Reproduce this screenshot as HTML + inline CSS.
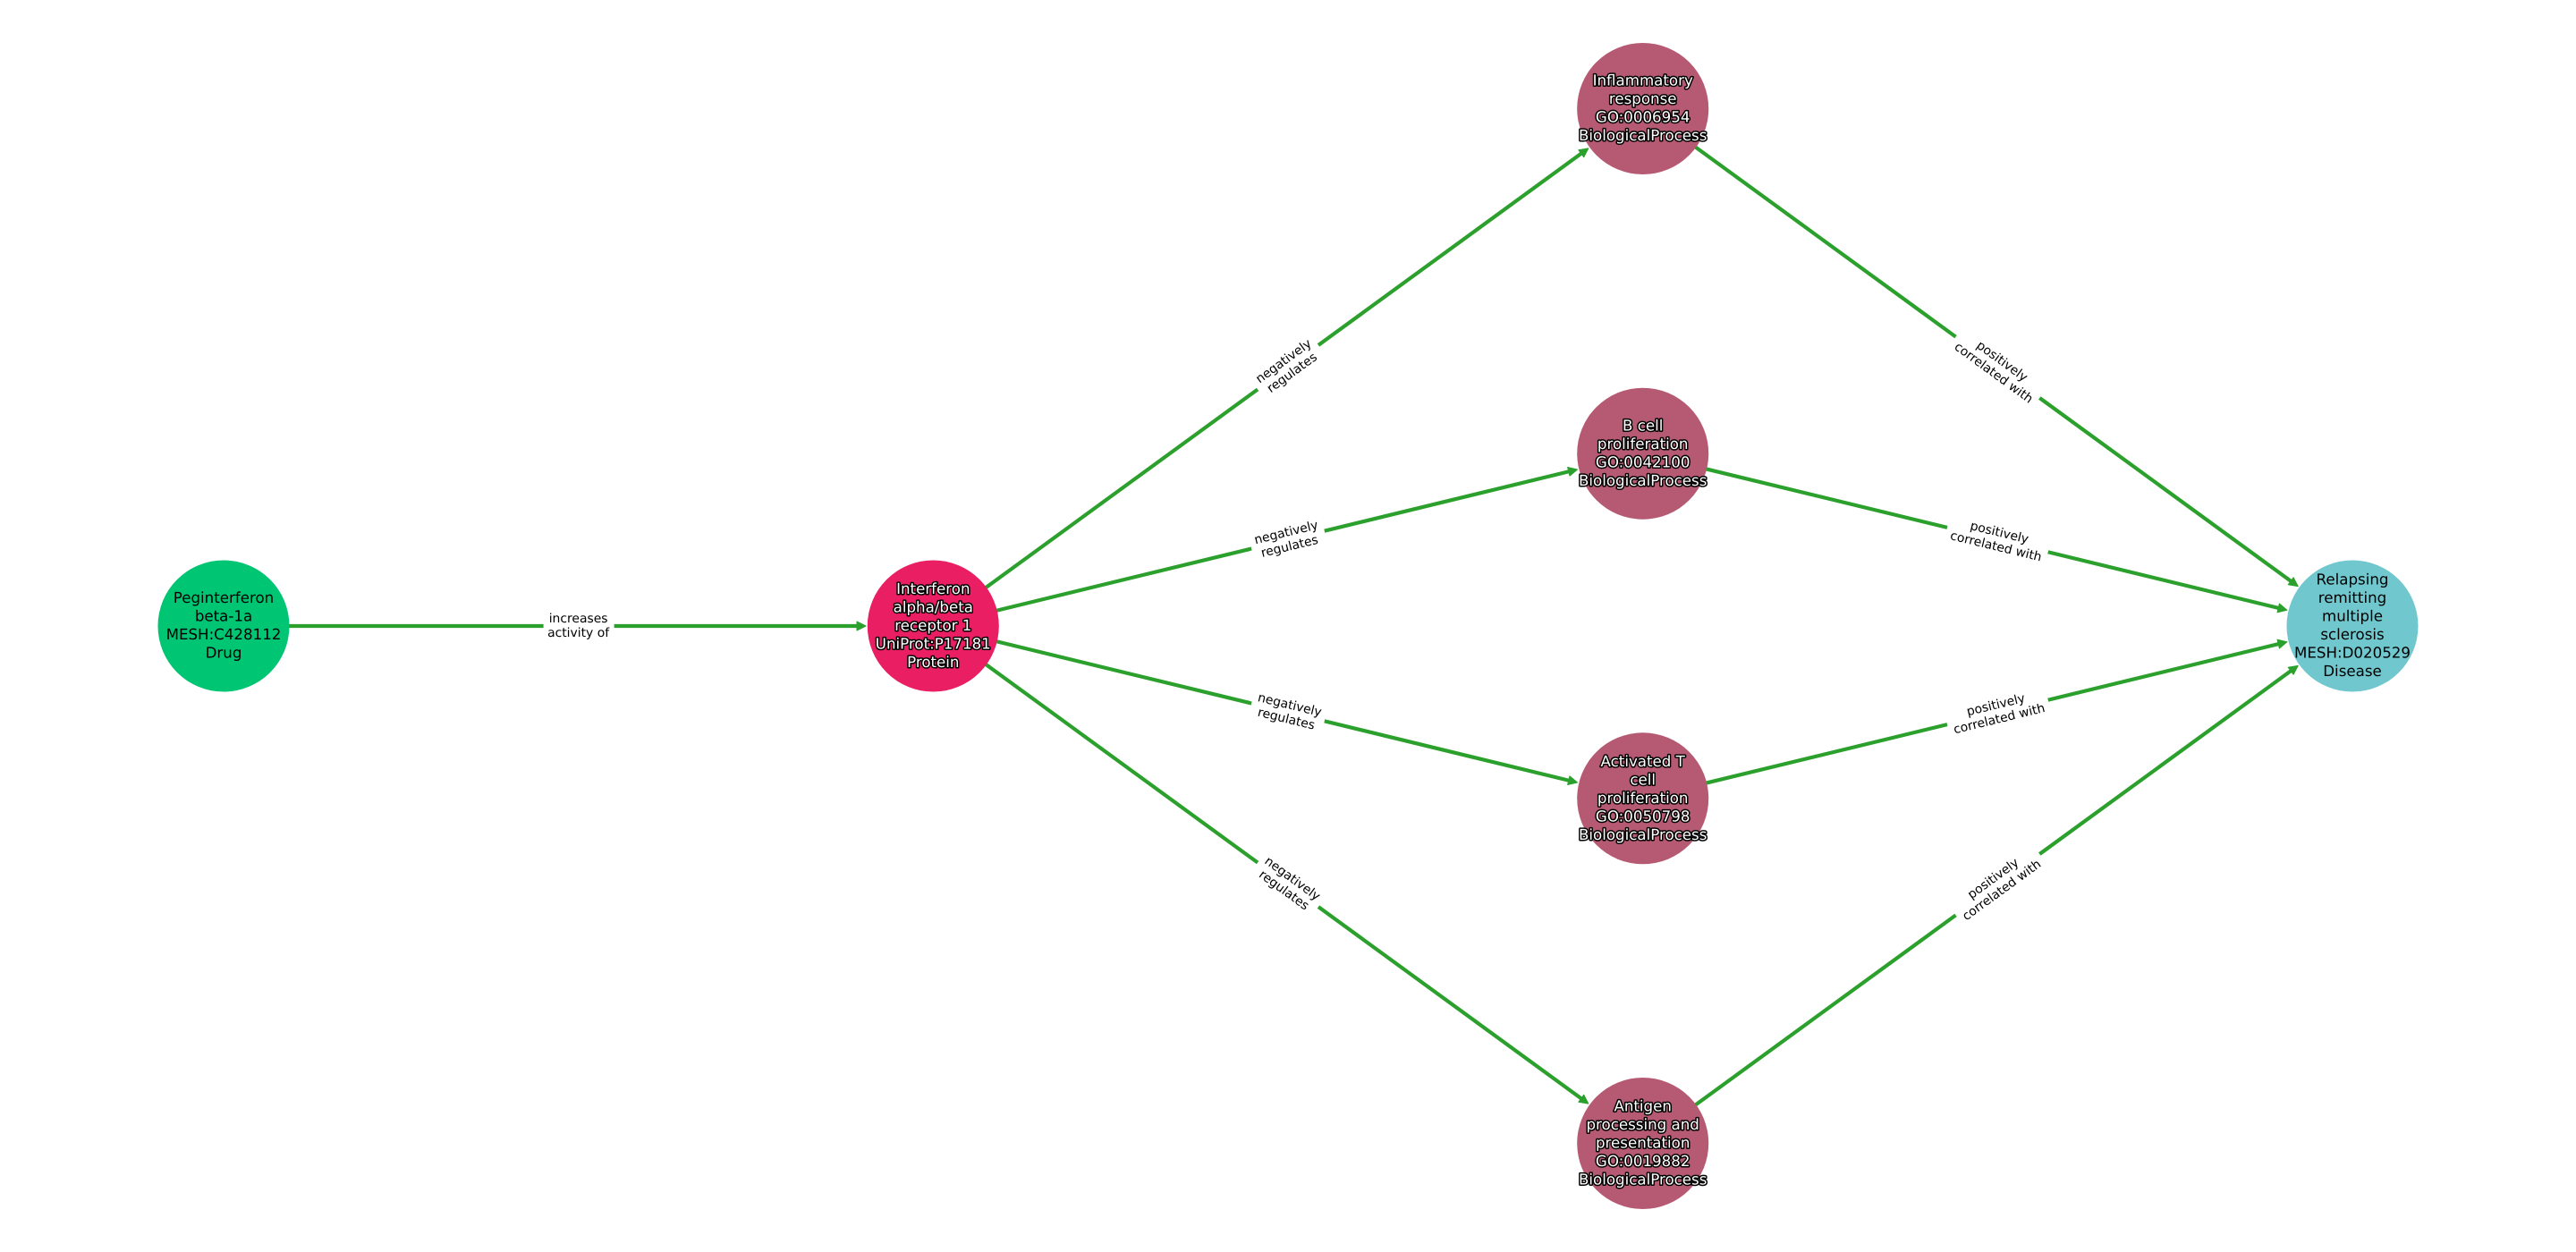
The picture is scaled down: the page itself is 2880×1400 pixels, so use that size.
<!DOCTYPE html>
<html>
<head>
<meta charset="utf-8">
<style>
html,body{margin:0;padding:0;background:#fff;width:2880px;height:1400px;overflow:hidden}
svg{display:block}
text{font-family:"DejaVu Sans",sans-serif;text-anchor:middle;text-rendering:geometricPrecision}
.e{font-size:13.9px;fill:#000}
.n{font-size:16.67px;fill:#000}
.o{font-size:16.67px;fill:#fff;stroke:#000;stroke-width:3px;paint-order:stroke;stroke-linejoin:round}
.l{stroke:#2ca02c;stroke-width:4.17px;fill:none}
.h{fill:#2ca02c;stroke:#2ca02c;stroke-width:1px;stroke-linejoin:round}
</style>
</head>
<body>
<svg width="2880" height="1400" viewBox="0 0 2880 1400" xmlns="http://www.w3.org/2000/svg">
<rect width="2880" height="1400" fill="#fff"/>

<!-- edge: drug -> receptor -->
<g transform="translate(250,700)">
<line class="l" x1="0" y1="0" x2="709" y2="0"/>
<polygon class="h" points="718,0 708,-5 708,5"/>
<rect x="357.6" y="-22" width="79" height="44" fill="#fff"/>
<text class="e" x="396.6" y="-4">increases</text>
<text class="e" x="396.6" y="12">activity of</text>
</g>

<!-- receptor -> processes -->
<g transform="translate(1043.3,700) rotate(-36.1)">
<line class="l" x1="0" y1="0" x2="897.9" y2="0"/>
<polygon class="h" points="906.6,0 896.6,-5 896.6,5"/>
<rect x="449" y="-22" width="84" height="44" fill="#fff"/>
<text class="e" x="491" y="-4">negatively</text>
<text class="e" x="491" y="12">regulates</text>
</g>
<g transform="translate(1043.3,700) rotate(-13.66)">
<line class="l" x1="0" y1="0" x2="732.5" y2="0"/>
<polygon class="h" points="741.2,0 731.2,-5 731.2,5"/>
<rect x="366.2" y="-22" width="84" height="44" fill="#fff"/>
<text class="e" x="408.2" y="-4">negatively</text>
<text class="e" x="408.2" y="12">regulates</text>
</g>
<g transform="translate(1043.3,700) rotate(13.66)">
<line class="l" x1="0" y1="0" x2="732.5" y2="0"/>
<polygon class="h" points="741.2,0 731.2,-5 731.2,5"/>
<rect x="366.2" y="-22" width="84" height="44" fill="#fff"/>
<text class="e" x="408.2" y="-4">negatively</text>
<text class="e" x="408.2" y="12">regulates</text>
</g>
<g transform="translate(1043.3,700) rotate(36.1)">
<line class="l" x1="0" y1="0" x2="897.9" y2="0"/>
<polygon class="h" points="906.6,0 896.6,-5 896.6,5"/>
<rect x="449" y="-22" width="84" height="44" fill="#fff"/>
<text class="e" x="491" y="-4">negatively</text>
<text class="e" x="491" y="12">regulates</text>
</g>

<!-- processes -> disease -->
<g transform="translate(1836.7,121.5) rotate(36.1)">
<line class="l" x1="0" y1="0" x2="897.9" y2="0"/>
<polygon class="h" points="906.6,0 896.6,-5 896.6,5"/>
<rect x="433" y="-22" width="116" height="44" fill="#fff"/>
<text class="e" x="491" y="-4">positively</text>
<text class="e" x="491" y="12">correlated with</text>
</g>
<g transform="translate(1836.7,507.2) rotate(13.66)">
<line class="l" x1="0" y1="0" x2="732.5" y2="0"/>
<polygon class="h" points="741.2,0 731.2,-5 731.2,5"/>
<rect x="350.2" y="-22" width="116" height="44" fill="#fff"/>
<text class="e" x="408.2" y="-4">positively</text>
<text class="e" x="408.2" y="12">correlated with</text>
</g>
<g transform="translate(1836.7,892.8) rotate(-13.66)">
<line class="l" x1="0" y1="0" x2="732.5" y2="0"/>
<polygon class="h" points="741.2,0 731.2,-5 731.2,5"/>
<rect x="350.2" y="-22" width="116" height="44" fill="#fff"/>
<text class="e" x="408.2" y="-4">positively</text>
<text class="e" x="408.2" y="12">correlated with</text>
</g>
<g transform="translate(1836.7,1278.5) rotate(-36.1)">
<line class="l" x1="0" y1="0" x2="897.9" y2="0"/>
<polygon class="h" points="906.6,0 896.6,-5 896.6,5"/>
<rect x="433" y="-22" width="116" height="44" fill="#fff"/>
<text class="e" x="491" y="-4">positively</text>
<text class="e" x="491" y="12">correlated with</text>
</g>

<!-- nodes -->
<circle cx="250" cy="700" r="73.5" fill="#00c573"/>
<text class="n" x="250" y="674.2">Peginterferon</text>
<text class="n" x="250" y="694.7">beta-1a</text>
<text class="n" x="250" y="715.2">MESH:C428112</text>
<text class="n" x="250" y="735.7">Drug</text>

<circle cx="1043.3" cy="700" r="73.5" fill="#e91e63"/>
<text class="o" x="1043.3" y="664">Interferon</text>
<text class="o" x="1043.3" y="684.5">alpha/beta</text>
<text class="o" x="1043.3" y="705">receptor 1</text>
<text class="o" x="1043.3" y="725.5">UniProt:P17181</text>
<text class="o" x="1043.3" y="746">Protein</text>

<circle cx="1836.7" cy="121.5" r="73.5" fill="#b55a72"/>
<text class="o" x="1836.7" y="95.7">Inflammatory</text>
<text class="o" x="1836.7" y="116.2">response</text>
<text class="o" x="1836.7" y="136.7">GO:0006954</text>
<text class="o" x="1836.7" y="157.2">BiologicalProcess</text>

<circle cx="1836.7" cy="507.2" r="73.5" fill="#b55a72"/>
<text class="o" x="1836.7" y="481.4">B cell</text>
<text class="o" x="1836.7" y="501.9">proliferation</text>
<text class="o" x="1836.7" y="522.4">GO:0042100</text>
<text class="o" x="1836.7" y="542.9">BiologicalProcess</text>

<circle cx="1836.7" cy="892.8" r="73.5" fill="#b55a72"/>
<text class="o" x="1836.7" y="856.8">Activated T</text>
<text class="o" x="1836.7" y="877.3">cell</text>
<text class="o" x="1836.7" y="897.8">proliferation</text>
<text class="o" x="1836.7" y="918.3">GO:0050798</text>
<text class="o" x="1836.7" y="938.8">BiologicalProcess</text>

<circle cx="1836.7" cy="1278.5" r="73.5" fill="#b55a72"/>
<text class="o" x="1836.7" y="1242.5">Antigen</text>
<text class="o" x="1836.7" y="1263">processing and</text>
<text class="o" x="1836.7" y="1283.5">presentation</text>
<text class="o" x="1836.7" y="1304">GO:0019882</text>
<text class="o" x="1836.7" y="1324.5">BiologicalProcess</text>

<circle cx="2630" cy="700" r="73.5" fill="#70c7cd"/>
<text class="n" x="2630" y="653.5">Relapsing</text>
<text class="n" x="2630" y="674">remitting</text>
<text class="n" x="2630" y="694.5">multiple</text>
<text class="n" x="2630" y="715">sclerosis</text>
<text class="n" x="2630" y="735.5">MESH:D020529</text>
<text class="n" x="2630" y="756">Disease</text>
</svg>
</body>
</html>
